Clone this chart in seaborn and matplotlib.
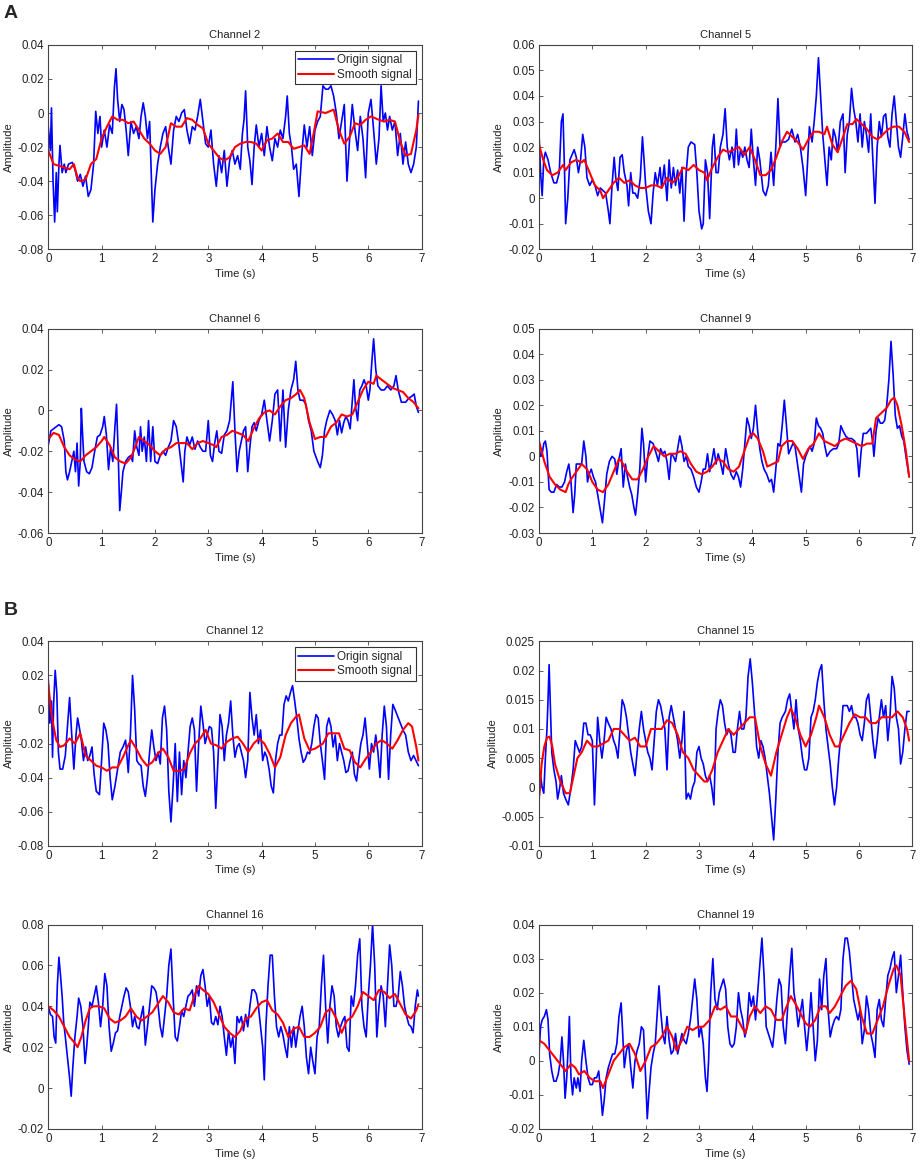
import numpy as np
import pandas as pd
import matplotlib
matplotlib.use('Agg')
import matplotlib.pyplot as plt
import seaborn as sns

# ==============================================================================
# Data: (time s, amplitude) pairs
# ==============================================================================
ch2_origin = [(0.00, -0.008), (0.04, -0.022), (0.06, 0.003), (0.09, -0.040), (0.12, -0.064), (0.15, -0.035),
              (0.17, -0.058), (0.20, -0.030), (0.22, -0.019), (0.26, -0.035), (0.30, -0.030), (0.33, -0.035),
              (0.38, -0.030), (0.45, -0.029), (0.50, -0.033), (0.55, -0.040), (0.60, -0.036), (0.65, -0.043),
              (0.70, -0.037), (0.75, -0.049), (0.80, -0.045), (0.85, -0.030), (0.89, 0.001), (0.93, -0.012),
              (0.97, -0.002), (1.00, -0.020), (1.05, -0.010), (1.10, -0.020), (1.15, -0.007), (1.20, -0.012),
              (1.24, 0.015), (1.27, 0.026), (1.30, 0.008), (1.34, -0.005), (1.38, 0.005), (1.42, 0.002),
              (1.46, -0.010), (1.50, -0.025), (1.55, -0.005), (1.60, -0.012), (1.65, -0.008), (1.70, -0.015),
              (1.74, -0.002), (1.78, 0.006), (1.82, -0.002), (1.86, -0.015), (1.90, -0.005), (1.96, -0.064),
              (2.00, -0.045), (2.05, -0.030), (2.10, -0.020), (2.15, -0.012), (2.20, -0.008), (2.25, -0.020),
              (2.30, -0.030), (2.35, -0.010), (2.40, -0.002), (2.45, -0.005), (2.50, 0.000), (2.55, 0.002),
              (2.60, -0.010), (2.65, -0.018), (2.70, -0.008), (2.75, -0.010), (2.80, -0.002), (2.85, 0.008),
              (2.90, -0.005), (2.95, -0.018), (3.00, -0.020), (3.05, -0.010), (3.10, -0.030), (3.15, -0.043),
              (3.20, -0.025), (3.25, -0.035), (3.30, -0.022), (3.35, -0.043), (3.40, -0.028), (3.45, -0.022),
              (3.50, -0.030), (3.55, -0.025), (3.60, -0.033), (3.64, -0.012), (3.67, -0.004), (3.70, 0.013),
              (3.74, -0.020), (3.78, -0.028), (3.82, -0.042), (3.86, -0.020), (3.90, -0.007), (3.95, -0.020),
              (4.00, -0.012), (4.05, -0.025), (4.10, -0.008), (4.15, -0.020), (4.20, -0.028), (4.25, -0.015),
              (4.30, -0.020), (4.35, -0.010), (4.40, -0.015), (4.45, -0.002), (4.48, 0.010), (4.52, -0.012),
              (4.56, -0.020), (4.60, -0.033), (4.65, -0.030), (4.70, -0.049), (4.75, -0.025), (4.80, -0.007),
              (4.85, -0.020), (4.90, -0.008), (4.95, -0.025), (5.00, -0.010), (5.05, -0.005), (5.10, -0.002),
              (5.15, 0.016), (5.20, 0.014), (5.25, 0.014), (5.30, 0.016), (5.35, 0.010), (5.40, 0.000),
              (5.45, -0.015), (5.50, -0.005), (5.55, 0.005), (5.60, -0.040), (5.65, -0.015), (5.70, 0.005),
              (5.75, -0.010), (5.80, -0.022), (5.85, -0.002), (5.90, -0.015), (5.95, -0.038), (6.00, 0.000),
              (6.05, 0.008), (6.10, -0.010), (6.15, -0.030), (6.20, -0.015), (6.24, 0.016), (6.28, -0.005),
              (6.32, 0.000), (6.36, -0.010), (6.40, -0.002), (6.45, -0.010), (6.50, -0.005), (6.55, -0.025),
              (6.60, -0.012), (6.65, -0.030), (6.70, -0.017), (6.75, -0.030), (6.80, -0.035), (6.85, -0.030),
              (6.90, -0.020), (6.94, 0.007)]
ch2_smooth = [(0.0, -0.022), (0.1, -0.030), (0.2, -0.031), (0.3, -0.032), (0.4, -0.033), (0.48, -0.030),
              (0.55, -0.038), (0.6, -0.040), (0.7, -0.039), (0.8, -0.030), (0.9, -0.027), (1.0, -0.015),
              (1.1, -0.008), (1.2, -0.002), (1.3, -0.004), (1.4, -0.004), (1.5, -0.006), (1.6, -0.005),
              (1.7, -0.010), (1.8, -0.015), (1.9, -0.018), (2.0, -0.022), (2.1, -0.024), (2.2, -0.020),
              (2.3, -0.006), (2.4, -0.008), (2.5, -0.008), (2.6, -0.003), (2.7, -0.004), (2.8, -0.007),
              (2.9, -0.009), (3.0, -0.018), (3.1, -0.022), (3.2, -0.026), (3.3, -0.028), (3.4, -0.026),
              (3.5, -0.020), (3.6, -0.018), (3.7, -0.017), (3.8, -0.017), (3.9, -0.018), (4.0, -0.022),
              (4.1, -0.016), (4.2, -0.015), (4.3, -0.012), (4.4, -0.017), (4.5, -0.017), (4.6, -0.021),
              (4.7, -0.020), (4.8, -0.019), (4.9, -0.024), (5.0, -0.008), (5.05, 0.001), (5.2, 0.000),
              (5.35, 0.002), (5.45, -0.010), (5.55, -0.018), (5.65, -0.014), (5.75, -0.006), (5.85, -0.007),
              (5.95, -0.004), (6.05, -0.002), (6.2, -0.004), (6.3, -0.005), (6.4, -0.004), (6.5, -0.005),
              (6.6, -0.017), (6.7, -0.025), (6.8, -0.024), (6.9, -0.010), (6.94, -0.001)]

ch5_origin = [(0.00, 0.026), (0.03, 0.010), (0.06, 0.001), (0.09, 0.015), (0.12, 0.018), (0.17, 0.015),
              (0.22, 0.010), (0.28, 0.006), (0.33, 0.006), (0.38, 0.010), (0.42, 0.030), (0.45, 0.033),
              (0.48, 0.010), (0.50, -0.010), (0.54, 0.000), (0.58, 0.015), (0.62, 0.017), (0.66, 0.019),
              (0.70, 0.016), (0.74, 0.010), (0.78, 0.015), (0.82, 0.025), (0.86, 0.020), (0.90, 0.008),
              (0.95, 0.005), (1.00, 0.007), (1.05, 0.005), (1.10, 0.001), (1.15, 0.004), (1.20, 0.003),
              (1.25, 0.002), (1.30, -0.005), (1.33, -0.010), (1.37, 0.005), (1.41, 0.016), (1.44, 0.008),
              (1.48, 0.003), (1.52, 0.016), (1.56, 0.017), (1.60, 0.010), (1.65, 0.005), (1.68, -0.003),
              (1.72, 0.010), (1.76, 0.002), (1.80, 0.002), (1.85, 0.000), (1.90, 0.008), (1.94, 0.024),
              (1.97, 0.015), (2.00, 0.005), (2.05, -0.005), (2.10, -0.010), (2.14, 0.002), (2.18, 0.010),
              (2.22, 0.005), (2.27, 0.012), (2.30, 0.004), (2.35, 0.013), (2.40, -0.001), (2.44, 0.015),
              (2.48, 0.004), (2.52, 0.012), (2.56, 0.005), (2.60, 0.011), (2.64, 0.002), (2.68, 0.012),
              (2.72, -0.009), (2.76, 0.010), (2.80, 0.020), (2.85, 0.022), (2.92, 0.021), (2.96, 0.010),
              (3.00, -0.005), (3.05, -0.012), (3.08, -0.010), (3.12, 0.015), (3.16, 0.010), (3.20, -0.008),
              (3.25, 0.020), (3.28, 0.025), (3.32, 0.010), (3.36, 0.010), (3.40, 0.020), (3.45, 0.025),
              (3.49, 0.035), (3.53, 0.020), (3.57, 0.015), (3.62, 0.020), (3.66, 0.012), (3.70, 0.027),
              (3.74, 0.013), (3.78, 0.019), (3.82, 0.016), (3.86, 0.020), (3.90, 0.015), (3.94, 0.012),
              (3.98, 0.027), (4.02, 0.015), (4.06, 0.005), (4.10, 0.020), (4.14, 0.015), (4.20, 0.003),
              (4.25, 0.001), (4.30, 0.005), (4.35, 0.018), (4.40, 0.005), (4.44, 0.020), (4.48, 0.039),
              (4.52, 0.020), (4.56, 0.022), (4.62, 0.022), (4.68, 0.023), (4.74, 0.027), (4.80, 0.022),
              (4.85, 0.025), (4.90, 0.020), (4.95, 0.012), (5.00, 0.001), (5.03, 0.012), (5.07, 0.028),
              (5.12, 0.022), (5.16, 0.030), (5.20, 0.040), (5.24, 0.055), (5.28, 0.040), (5.32, 0.025),
              (5.36, 0.015), (5.40, 0.005), (5.44, 0.020), (5.48, 0.015), (5.52, 0.027), (5.56, 0.024),
              (5.60, 0.018), (5.65, 0.030), (5.70, 0.033), (5.74, 0.010), (5.78, 0.025), (5.82, 0.030),
              (5.86, 0.043), (5.90, 0.035), (5.94, 0.030), (5.98, 0.022), (6.02, 0.033), (6.06, 0.020),
              (6.10, 0.030), (6.14, 0.025), (6.18, 0.018), (6.22, 0.033), (6.26, 0.015), (6.30, -0.002),
              (6.34, 0.020), (6.38, 0.030), (6.42, 0.024), (6.46, 0.032), (6.50, 0.033), (6.54, 0.024),
              (6.58, 0.020), (6.62, 0.033), (6.66, 0.040), (6.70, 0.030), (6.74, 0.020), (6.78, 0.016),
              (6.82, 0.024), (6.86, 0.033), (6.90, 0.026), (6.94, 0.023)]
ch5_smooth = [(0.0, 0.021), (0.08, 0.015), (0.15, 0.011), (0.25, 0.009), (0.35, 0.010), (0.45, 0.013),
              (0.5, 0.011), (0.6, 0.014), (0.7, 0.015), (0.8, 0.014), (0.85, 0.015), (0.95, 0.010),
              (1.05, 0.005), (1.15, 0.003), (1.2, 0.000), (1.3, 0.003), (1.4, 0.006), (1.5, 0.008),
              (1.6, 0.006), (1.7, 0.007), (1.8, 0.005), (1.9, 0.004), (2.0, 0.004), (2.1, 0.005),
              (2.2, 0.005), (2.3, 0.004), (2.4, 0.008), (2.5, 0.006), (2.6, 0.008), (2.7, 0.012),
              (2.8, 0.011), (2.9, 0.013), (3.0, 0.011), (3.1, 0.010), (3.15, 0.007), (3.25, 0.012),
              (3.35, 0.016), (3.45, 0.019), (3.55, 0.018), (3.65, 0.019), (3.75, 0.020), (3.85, 0.017),
              (3.95, 0.020), (4.05, 0.015), (4.15, 0.009), (4.25, 0.009), (4.35, 0.011), (4.45, 0.016),
              (4.55, 0.022), (4.65, 0.026), (4.75, 0.024), (4.85, 0.022), (4.95, 0.019), (5.05, 0.023),
              (5.15, 0.026), (5.25, 0.026), (5.35, 0.025), (5.4, 0.028), (5.5, 0.021), (5.6, 0.018),
              (5.7, 0.024), (5.78, 0.029), (5.88, 0.029), (5.95, 0.031), (6.05, 0.029), (6.15, 0.027),
              (6.25, 0.024), (6.35, 0.023), (6.45, 0.025), (6.55, 0.027), (6.65, 0.028), (6.75, 0.028),
              (6.85, 0.026), (6.94, 0.022)]

ch6_origin = [(0.00, -0.017), (0.05, -0.010), (0.10, -0.009), (0.20, -0.007), (0.25, -0.008), (0.30, -0.015),
              (0.33, -0.030), (0.36, -0.034), (0.40, -0.030), (0.44, -0.025), (0.48, -0.020), (0.51, -0.030),
              (0.54, -0.016), (0.57, -0.037), (0.60, -0.025), (0.62, 0.001), (0.64, -0.010), (0.67, -0.025),
              (0.72, -0.030), (0.77, -0.031), (0.82, -0.028), (0.87, -0.020), (0.92, -0.013), (0.97, -0.012),
              (1.02, -0.008), (1.05, -0.003), (1.09, -0.012), (1.13, -0.029), (1.17, -0.018), (1.21, -0.025),
              (1.25, -0.008), (1.28, 0.003), (1.31, -0.020), (1.34, -0.049), (1.37, -0.040), (1.40, -0.030),
              (1.45, -0.025), (1.50, -0.023), (1.55, -0.022), (1.58, -0.025), (1.62, -0.010), (1.66, -0.018),
              (1.70, -0.022), (1.73, -0.008), (1.76, -0.020), (1.80, -0.013), (1.84, -0.025), (1.88, -0.005),
              (1.92, -0.025), (1.96, -0.008), (2.00, -0.025), (2.05, -0.026), (2.10, -0.022), (2.15, -0.020),
              (2.20, -0.022), (2.25, -0.018), (2.30, -0.015), (2.35, -0.005), (2.40, -0.008), (2.45, -0.017),
              (2.50, -0.028), (2.53, -0.035), (2.56, -0.020), (2.60, -0.013), (2.65, -0.017), (2.70, -0.013),
              (2.75, -0.019), (2.80, -0.015), (2.85, -0.018), (2.90, -0.020), (2.95, -0.020), (3.00, -0.005),
              (3.04, -0.022), (3.08, -0.025), (3.12, -0.016), (3.16, -0.010), (3.20, -0.020), (3.25, -0.021),
              (3.30, -0.012), (3.35, -0.010), (3.40, -0.005), (3.46, 0.014), (3.50, -0.010), (3.54, -0.030),
              (3.58, -0.020), (3.62, -0.015), (3.66, -0.010), (3.70, -0.008), (3.74, -0.030), (3.78, -0.018),
              (3.82, -0.008), (3.86, -0.006), (3.90, -0.010), (3.95, -0.005), (4.00, -0.002), (4.05, 0.005),
              (4.10, -0.005), (4.15, -0.015), (4.20, -0.005), (4.25, 0.008), (4.30, 0.010), (4.35, -0.015),
              (4.40, 0.010), (4.45, -0.018), (4.50, 0.000), (4.55, 0.010), (4.60, 0.015), (4.64, 0.024),
              (4.68, 0.010), (4.72, 0.005), (4.78, 0.005), (4.83, 0.003), (4.88, -0.005), (4.93, -0.010),
              (4.98, -0.020), (5.05, -0.025), (5.10, -0.028), (5.14, -0.022), (5.18, -0.010), (5.22, -0.005),
              (5.28, 0.000), (5.33, -0.002), (5.38, -0.005), (5.42, -0.012), (5.46, -0.005), (5.50, -0.011),
              (5.54, -0.006), (5.58, -0.003), (5.62, -0.005), (5.66, -0.009), (5.70, 0.005), (5.73, 0.015),
              (5.76, 0.002), (5.80, -0.005), (5.84, 0.010), (5.88, 0.012), (5.92, 0.015), (5.96, 0.012),
              (6.00, 0.005), (6.03, 0.010), (6.07, 0.025), (6.10, 0.035), (6.14, 0.020), (6.18, 0.012),
              (6.24, 0.010), (6.30, 0.010), (6.36, 0.012), (6.42, 0.010), (6.48, 0.012), (6.52, 0.017),
              (6.56, 0.010), (6.62, 0.004), (6.70, 0.004), (6.76, 0.006), (6.82, 0.007), (6.86, 0.008),
              (6.90, 0.002), (6.94, -0.001)]
ch6_smooth = [(0.0, -0.014), (0.1, -0.011), (0.2, -0.012), (0.3, -0.018), (0.4, -0.022), (0.5, -0.024),
              (0.6, -0.025), (0.7, -0.022), (0.8, -0.020), (0.9, -0.018), (1.0, -0.015), (1.05, -0.013),
              (1.15, -0.017), (1.25, -0.023), (1.35, -0.025), (1.45, -0.026), (1.55, -0.023), (1.6, -0.020),
              (1.7, -0.013), (1.8, -0.015), (1.9, -0.017), (2.0, -0.020), (2.1, -0.022), (2.2, -0.019),
              (2.3, -0.018), (2.4, -0.016), (2.5, -0.016), (2.6, -0.016), (2.7, -0.019), (2.8, -0.016),
              (2.9, -0.015), (3.0, -0.016), (3.1, -0.017), (3.15, -0.018), (3.25, -0.013), (3.35, -0.012),
              (3.45, -0.010), (3.55, -0.011), (3.65, -0.012), (3.75, -0.015), (3.85, -0.009), (3.95, -0.004),
              (4.05, -0.001), (4.15, 0.000), (4.25, -0.002), (4.35, 0.002), (4.45, 0.005), (4.55, 0.006),
              (4.65, 0.008), (4.72, 0.010), (4.8, 0.006), (4.9, -0.006), (5.0, -0.014), (5.1, -0.013),
              (5.2, -0.013), (5.3, -0.008), (5.4, -0.006), (5.5, -0.002), (5.6, -0.003), (5.7, -0.002),
              (5.8, 0.004), (5.9, 0.010), (6.0, 0.014), (6.1, 0.013), (6.15, 0.017), (6.25, 0.015),
              (6.35, 0.013), (6.45, 0.011), (6.55, 0.010), (6.65, 0.009), (6.75, 0.006), (6.85, 0.004),
              (6.94, 0.001)]

ch9_origin = [(0.00, 0.004), (0.03, 0.000), (0.06, 0.001), (0.09, 0.005), (0.12, 0.006), (0.15, 0.002),
              (0.19, -0.013), (0.23, -0.014), (0.28, -0.014), (0.33, -0.011), (0.38, -0.012), (0.43, -0.012),
              (0.48, -0.010), (0.52, -0.006), (0.56, -0.003), (0.60, -0.010), (0.64, -0.022), (0.67, -0.015),
              (0.70, -0.003), (0.75, -0.003), (0.80, -0.003), (0.84, 0.006), (0.88, 0.000), (0.91, -0.010),
              (0.94, -0.007), (0.98, -0.005), (1.02, -0.008), (1.06, -0.010), (1.10, -0.015), (1.15, -0.021),
              (1.19, -0.026), (1.23, -0.017), (1.27, -0.007), (1.32, -0.002), (1.37, 0.000), (1.42, -0.001),
              (1.46, -0.007), (1.50, -0.001), (1.54, 0.003), (1.58, -0.012), (1.62, -0.003), (1.66, -0.008),
              (1.70, -0.012), (1.74, -0.015), (1.78, -0.020), (1.81, -0.023), (1.85, -0.015), (1.89, -0.005),
              (1.93, 0.011), (1.96, 0.005), (2.00, -0.010), (2.04, 0.000), (2.08, 0.006), (2.14, 0.005),
              (2.20, 0.001), (2.24, -0.002), (2.28, 0.003), (2.32, 0.001), (2.36, 0.002), (2.40, -0.002),
              (2.44, -0.009), (2.48, 0.001), (2.52, 0.000), (2.56, -0.002), (2.60, 0.003), (2.64, 0.008),
              (2.68, 0.004), (2.72, -0.002), (2.76, 0.000), (2.80, -0.004), (2.85, -0.005), (2.90, -0.008),
              (2.95, -0.012), (3.00, -0.014), (3.04, -0.010), (3.08, -0.005), (3.12, -0.005), (3.16, 0.001),
              (3.20, -0.006), (3.24, -0.002), (3.28, 0.003), (3.32, -0.003), (3.36, 0.001), (3.40, -0.002),
              (3.45, -0.007), (3.50, 0.003), (3.55, -0.003), (3.60, -0.007), (3.65, -0.009), (3.70, -0.006),
              (3.74, -0.008), (3.78, -0.012), (3.82, -0.005), (3.86, 0.005), (3.90, 0.015), (3.94, 0.012),
              (3.98, 0.007), (4.02, 0.011), (4.06, 0.020), (4.10, 0.010), (4.14, 0.003), (4.18, -0.002),
              (4.22, -0.005), (4.27, -0.007), (4.32, -0.010), (4.36, -0.009), (4.40, -0.014), (4.44, -0.005),
              (4.48, 0.005), (4.52, 0.004), (4.56, 0.012), (4.60, 0.022), (4.64, 0.012), (4.68, 0.001),
              (4.72, 0.003), (4.76, 0.005), (4.80, 0.004), (4.84, -0.002), (4.88, -0.008), (4.92, -0.014),
              (4.96, -0.003), (5.00, 0.000), (5.04, 0.002), (5.08, 0.004), (5.12, 0.002), (5.16, 0.005),
              (5.20, 0.015), (5.24, 0.012), (5.28, 0.011), (5.32, 0.009), (5.36, 0.004), (5.40, 0.000),
              (5.46, 0.002), (5.52, 0.003), (5.58, 0.003), (5.62, 0.005), (5.66, 0.012), (5.70, 0.010),
              (5.75, 0.008), (5.80, 0.007), (5.86, 0.007), (5.92, 0.006), (5.96, 0.003), (6.00, -0.008),
              (6.04, 0.002), (6.08, 0.009), (6.14, 0.009), (6.18, 0.010), (6.22, 0.011), (6.26, 0.005),
              (6.28, 0.000), (6.32, 0.010), (6.36, 0.015), (6.40, 0.013), (6.44, 0.013), (6.48, 0.014),
              (6.52, 0.020), (6.56, 0.030), (6.60, 0.045), (6.64, 0.032), (6.68, 0.016), (6.72, 0.011),
              (6.76, 0.012), (6.80, 0.008), (6.84, 0.006), (6.88, 0.000), (6.94, -0.008)]
ch9_smooth = [(0.0, 0.006), (0.1, -0.002), (0.2, -0.008), (0.3, -0.011), (0.4, -0.013), (0.5, -0.014),
              (0.55, -0.011), (0.6, -0.009), (0.7, -0.006), (0.8, -0.003), (0.9, -0.005), (1.0, -0.010),
              (1.1, -0.013), (1.2, -0.014), (1.3, -0.011), (1.4, -0.006), (1.5, -0.001), (1.55, -0.002),
              (1.65, -0.006), (1.75, -0.009), (1.85, -0.009), (1.95, -0.005), (2.05, 0.000), (2.15, 0.004),
              (2.25, 0.002), (2.35, 0.000), (2.45, 0.001), (2.55, 0.001), (2.65, 0.002), (2.75, 0.001),
              (2.85, -0.003), (2.95, -0.006), (3.05, -0.007), (3.15, -0.006), (3.25, -0.004), (3.35, -0.001),
              (3.45, -0.002), (3.55, -0.005), (3.65, -0.006), (3.75, -0.004), (3.85, 0.002), (3.95, 0.008),
              (4.02, 0.009), (4.1, 0.007), (4.2, 0.002), (4.28, -0.004), (4.38, -0.003), (4.48, -0.002),
              (4.55, 0.004), (4.65, 0.006), (4.75, 0.006), (4.85, 0.003), (4.95, -0.001), (5.05, 0.003),
              (5.15, 0.005), (5.25, 0.009), (5.35, 0.006), (5.45, 0.005), (5.55, 0.004), (5.65, 0.006),
              (5.75, 0.007), (5.85, 0.006), (5.95, 0.005), (6.05, 0.004), (6.15, 0.005), (6.25, 0.005),
              (6.32, 0.015), (6.42, 0.017), (6.52, 0.019), (6.6, 0.022), (6.66, 0.023), (6.72, 0.020),
              (6.8, 0.012), (6.88, 0.002), (6.94, -0.008)]

ch12_origin = [(0.00, 0.018), (0.03, -0.008), (0.06, 0.005), (0.08, -0.028), (0.10, 0.003), (0.13, 0.023),
               (0.16, 0.010), (0.19, -0.025), (0.22, -0.035), (0.27, -0.035), (0.32, -0.027), (0.36, -0.010),
               (0.40, 0.007), (0.44, -0.015), (0.48, -0.035), (0.52, -0.015), (0.55, -0.005), (0.58, -0.010),
               (0.62, -0.018), (0.66, -0.030), (0.70, -0.022), (0.74, -0.030), (0.78, -0.027), (0.82, -0.022),
               (0.86, -0.038), (0.90, -0.048), (0.96, -0.050), (1.00, -0.030), (1.04, -0.008), (1.08, -0.012),
               (1.12, -0.020), (1.16, -0.040), (1.20, -0.053), (1.25, -0.045), (1.30, -0.035), (1.35, -0.025),
               (1.40, -0.022), (1.45, -0.018), (1.50, -0.037), (1.54, -0.015), (1.58, 0.020), (1.62, 0.000),
               (1.66, -0.030), (1.70, -0.032), (1.74, -0.033), (1.78, -0.045), (1.82, -0.051), (1.86, -0.040),
               (1.90, -0.025), (1.94, -0.012), (1.98, -0.022), (2.02, -0.030), (2.06, -0.025), (2.10, -0.032),
               (2.14, -0.005), (2.18, 0.002), (2.22, -0.012), (2.26, -0.048), (2.30, -0.066), (2.34, -0.045),
               (2.38, -0.020), (2.42, -0.054), (2.46, -0.025), (2.50, -0.050), (2.54, -0.030), (2.58, -0.040),
               (2.62, -0.025), (2.66, -0.010), (2.70, -0.005), (2.74, -0.012), (2.78, -0.048), (2.82, -0.020),
               (2.86, 0.002), (2.90, -0.008), (2.94, -0.020), (2.98, -0.015), (3.02, -0.010), (3.06, -0.011),
               (3.10, -0.025), (3.14, -0.058), (3.18, -0.030), (3.22, -0.003), (3.26, -0.010), (3.30, -0.030),
               (3.34, -0.015), (3.38, -0.008), (3.42, 0.005), (3.46, -0.015), (3.50, -0.028), (3.54, -0.022),
               (3.58, -0.020), (3.62, -0.025), (3.66, -0.030), (3.70, -0.040), (3.74, -0.030), (3.78, 0.010),
               (3.82, -0.005), (3.86, -0.015), (3.90, -0.003), (3.94, -0.020), (3.98, -0.012), (4.02, -0.030),
               (4.06, -0.025), (4.10, -0.028), (4.14, -0.035), (4.18, -0.045), (4.22, -0.049), (4.26, -0.030),
               (4.30, -0.020), (4.34, -0.015), (4.38, -0.015), (4.42, 0.003), (4.46, 0.008), (4.50, 0.005),
               (4.54, 0.010), (4.58, 0.014), (4.62, 0.005), (4.66, -0.005), (4.70, -0.017), (4.74, -0.025),
               (4.78, -0.031), (4.82, -0.029), (4.86, -0.025), (4.90, -0.026), (4.94, -0.020), (4.98, -0.010),
               (5.02, -0.003), (5.06, -0.005), (5.10, -0.020), (5.14, -0.030), (5.18, -0.041), (5.22, -0.010),
               (5.26, -0.005), (5.30, -0.010), (5.34, -0.022), (5.38, -0.015), (5.42, -0.030), (5.46, -0.020),
               (5.50, -0.025), (5.54, -0.030), (5.58, -0.037), (5.62, -0.036), (5.66, -0.030), (5.70, -0.025),
               (5.74, -0.038), (5.78, -0.042), (5.82, -0.030), (5.86, -0.020), (5.90, -0.015), (5.94, -0.005),
               (5.98, -0.020), (6.02, -0.035), (6.06, -0.020), (6.10, -0.025), (6.14, -0.015), (6.18, -0.025),
               (6.22, -0.040), (6.26, -0.015), (6.30, 0.002), (6.34, -0.010), (6.38, -0.041), (6.42, -0.015),
               (6.46, 0.003), (6.50, 0.000), (6.55, -0.004), (6.60, -0.008), (6.65, -0.012), (6.70, -0.015),
               (6.75, -0.025), (6.80, -0.030), (6.85, -0.027), (6.94, -0.033)]
ch12_smooth = [(0.0, 0.015), (0.05, 0.000), (0.1, -0.010), (0.15, -0.018), (0.22, -0.022), (0.3, -0.021),
               (0.4, -0.017), (0.5, -0.020), (0.6, -0.014), (0.7, -0.027), (0.8, -0.030), (0.9, -0.033),
               (1.0, -0.034), (1.1, -0.036), (1.2, -0.034), (1.3, -0.034), (1.4, -0.028), (1.5, -0.021),
               (1.55, -0.018), (1.65, -0.023), (1.75, -0.029), (1.85, -0.033), (1.95, -0.031), (2.05, -0.026),
               (2.15, -0.023), (2.25, -0.028), (2.35, -0.036), (2.45, -0.036), (2.55, -0.035), (2.65, -0.026),
               (2.75, -0.020), (2.85, -0.017), (2.95, -0.012), (3.05, -0.020), (3.15, -0.021), (3.25, -0.023),
               (3.35, -0.019), (3.45, -0.017), (3.55, -0.016), (3.65, -0.020), (3.75, -0.025), (3.85, -0.020),
               (3.95, -0.017), (4.05, -0.020), (4.15, -0.026), (4.25, -0.034), (4.35, -0.028), (4.45, -0.015),
               (4.55, -0.008), (4.65, -0.004), (4.7, -0.003), (4.8, -0.017), (4.9, -0.024), (5.0, -0.023),
               (5.05, -0.022), (5.15, -0.020), (5.25, -0.014), (5.35, -0.014), (5.45, -0.014), (5.55, -0.023),
               (5.65, -0.024), (5.75, -0.031), (5.85, -0.034), (5.95, -0.029), (6.05, -0.025), (6.15, -0.020),
               (6.25, -0.018), (6.35, -0.020), (6.45, -0.023), (6.55, -0.018), (6.65, -0.012), (6.75, -0.008),
               (6.82, -0.010), (6.9, -0.022), (6.94, -0.030)]

ch15_origin = [(0.00, -0.002), (0.03, 0.002), (0.06, 0.000), (0.09, -0.001), (0.12, 0.005), (0.15, 0.010),
               (0.17, 0.015), (0.19, 0.021), (0.21, 0.015), (0.24, 0.006), (0.28, 0.003), (0.32, 0.001),
               (0.35, -0.002), (0.39, 0.000), (0.42, 0.002), (0.46, -0.001), (0.50, -0.002), (0.55, -0.003),
               (0.60, 0.000), (0.64, 0.003), (0.68, 0.008), (0.72, 0.007), (0.76, 0.006), (0.80, 0.007),
               (0.84, 0.011), (0.88, 0.011), (0.92, 0.009), (0.96, 0.009), (1.00, 0.008), (1.04, -0.003),
               (1.07, 0.004), (1.10, 0.012), (1.14, 0.008), (1.18, 0.005), (1.22, 0.008), (1.26, 0.012),
               (1.30, 0.011), (1.35, 0.010), (1.40, 0.008), (1.44, 0.007), (1.48, 0.005), (1.52, 0.010),
               (1.56, 0.015), (1.60, 0.014), (1.64, 0.012), (1.68, 0.009), (1.72, 0.006), (1.76, 0.004),
               (1.80, 0.002), (1.84, 0.006), (1.88, 0.010), (1.92, 0.013), (1.96, 0.010), (2.00, 0.008),
               (2.04, 0.006), (2.08, 0.005), (2.12, 0.003), (2.16, 0.008), (2.20, 0.013), (2.24, 0.015),
               (2.28, 0.014), (2.32, 0.012), (2.36, 0.010), (2.40, 0.003), (2.44, 0.012), (2.48, 0.014),
               (2.52, 0.012), (2.56, 0.010), (2.60, 0.008), (2.64, 0.005), (2.68, 0.008), (2.72, 0.013),
               (2.76, -0.002), (2.80, -0.001), (2.84, -0.002), (2.88, 0.000), (2.92, 0.001), (2.96, 0.006),
               (3.00, 0.007), (3.04, 0.005), (3.08, 0.004), (3.12, 0.002), (3.16, 0.001), (3.20, 0.002),
               (3.24, 0.000), (3.28, -0.003), (3.32, 0.010), (3.36, 0.013), (3.40, 0.015), (3.44, 0.014),
               (3.48, 0.011), (3.52, 0.009), (3.56, 0.010), (3.60, 0.009), (3.64, 0.006), (3.68, 0.006),
               (3.72, 0.010), (3.76, 0.013), (3.80, 0.010), (3.84, 0.010), (3.88, 0.012), (3.92, 0.019),
               (3.96, 0.022), (4.00, 0.018), (4.04, 0.013), (4.08, 0.007), (4.12, 0.005), (4.16, 0.008),
               (4.20, 0.007), (4.24, 0.005), (4.28, 0.002), (4.32, -0.001), (4.36, -0.005), (4.40, -0.009),
               (4.44, -0.002), (4.48, 0.006), (4.52, 0.011), (4.56, 0.012), (4.62, 0.013), (4.66, 0.015),
               (4.70, 0.016), (4.74, 0.013), (4.78, 0.010), (4.82, 0.015), (4.86, 0.010), (4.90, 0.008),
               (4.94, 0.005), (4.98, 0.003), (5.02, 0.003), (5.06, 0.005), (5.10, 0.012), (5.14, 0.013),
               (5.18, 0.015), (5.22, 0.018), (5.26, 0.020), (5.30, 0.021), (5.34, 0.015), (5.38, 0.010),
               (5.42, 0.007), (5.46, 0.004), (5.50, 0.000), (5.54, -0.003), (5.58, 0.000), (5.62, 0.005),
               (5.66, 0.009), (5.70, 0.014), (5.74, 0.014), (5.78, 0.014), (5.82, 0.013), (5.86, 0.014),
               (5.90, 0.012), (5.94, 0.012), (5.98, 0.011), (6.02, 0.009), (6.06, 0.008), (6.10, 0.011),
               (6.14, 0.015), (6.18, 0.016), (6.22, 0.012), (6.26, 0.008), (6.30, 0.005), (6.34, 0.008),
               (6.38, 0.012), (6.42, 0.015), (6.46, 0.012), (6.50, 0.014), (6.54, 0.008), (6.58, 0.012),
               (6.62, 0.019), (6.66, 0.017), (6.70, 0.012), (6.74, 0.010), (6.78, 0.004), (6.82, 0.006),
               (6.86, 0.010), (6.90, 0.013), (6.94, 0.013)]
ch15_smooth = [(0.0, -0.002), (0.05, 0.004), (0.1, 0.007), (0.15, 0.0085), (0.2, 0.0087), (0.25, 0.007),
               (0.3, 0.004), (0.4, 0.001), (0.5, -0.001), (0.58, -0.001), (0.65, 0.002), (0.72, 0.005),
               (0.8, 0.006), (0.9, 0.008), (1.0, 0.007), (1.1, 0.007), (1.2, 0.0075), (1.3, 0.008),
               (1.4, 0.010), (1.5, 0.010), (1.6, 0.009), (1.7, 0.008), (1.8, 0.0085), (1.9, 0.007),
               (2.0, 0.007), (2.1, 0.010), (2.2, 0.010), (2.3, 0.010), (2.4, 0.0115), (2.5, 0.011),
               (2.6, 0.009), (2.7, 0.006), (2.8, 0.005), (2.9, 0.003), (3.0, 0.002), (3.1, 0.001),
               (3.15, 0.001), (3.25, 0.003), (3.35, 0.006), (3.45, 0.008), (3.55, 0.010), (3.65, 0.009),
               (3.75, 0.010), (3.85, 0.011), (3.95, 0.012), (4.05, 0.012), (4.15, 0.007), (4.25, 0.004),
               (4.35, 0.002), (4.45, 0.006), (4.55, 0.009), (4.65, 0.012), (4.72, 0.0135), (4.8, 0.012),
               (4.9, 0.009), (5.0, 0.007), (5.1, 0.009), (5.2, 0.012), (5.25, 0.014), (5.35, 0.012),
               (5.45, 0.009), (5.55, 0.007), (5.62, 0.007), (5.72, 0.009), (5.82, 0.011), (5.92, 0.0125),
               (6.02, 0.012), (6.12, 0.012), (6.22, 0.011), (6.32, 0.011), (6.42, 0.012), (6.52, 0.012),
               (6.62, 0.012), (6.72, 0.013), (6.82, 0.012), (6.9, 0.010), (6.94, 0.008)]

ch16_origin = [(0.00, 0.040), (0.04, 0.036), (0.08, 0.035), (0.11, 0.025), (0.14, 0.022), (0.17, 0.050),
               (0.20, 0.064), (0.23, 0.055), (0.26, 0.045), (0.29, 0.032), (0.32, 0.025), (0.36, 0.015),
               (0.40, 0.005), (0.43, -0.004), (0.46, 0.010), (0.50, 0.025), (0.54, 0.035), (0.57, 0.044),
               (0.61, 0.040), (0.65, 0.030), (0.69, 0.012), (0.72, 0.020), (0.75, 0.030), (0.78, 0.042),
               (0.82, 0.040), (0.86, 0.045), (0.90, 0.050), (0.94, 0.042), (0.98, 0.030), (1.02, 0.040),
               (1.06, 0.056), (1.10, 0.050), (1.14, 0.030), (1.18, 0.018), (1.22, 0.022), (1.26, 0.027),
               (1.30, 0.028), (1.34, 0.035), (1.38, 0.040), (1.42, 0.045), (1.46, 0.049), (1.50, 0.047),
               (1.54, 0.040), (1.58, 0.030), (1.62, 0.035), (1.66, 0.030), (1.70, 0.029), (1.74, 0.035),
               (1.78, 0.040), (1.82, 0.021), (1.86, 0.030), (1.90, 0.040), (1.94, 0.050), (1.98, 0.049),
               (2.02, 0.047), (2.06, 0.040), (2.10, 0.030), (2.14, 0.025), (2.18, 0.035), (2.22, 0.045),
               (2.26, 0.060), (2.30, 0.068), (2.34, 0.045), (2.38, 0.025), (2.42, 0.023), (2.46, 0.030),
               (2.50, 0.038), (2.54, 0.035), (2.58, 0.040), (2.62, 0.045), (2.66, 0.046), (2.70, 0.048),
               (2.74, 0.040), (2.78, 0.050), (2.82, 0.045), (2.86, 0.055), (2.90, 0.058), (2.94, 0.050),
               (2.98, 0.040), (3.02, 0.045), (3.06, 0.032), (3.10, 0.031), (3.14, 0.035), (3.18, 0.031),
               (3.22, 0.040), (3.26, 0.035), (3.30, 0.025), (3.34, 0.016), (3.38, 0.028), (3.42, 0.020),
               (3.46, 0.025), (3.50, 0.012), (3.54, 0.035), (3.58, 0.032), (3.62, 0.035), (3.66, 0.028),
               (3.70, 0.036), (3.74, 0.030), (3.78, 0.040), (3.82, 0.048), (3.86, 0.048), (3.90, 0.046),
               (3.94, 0.040), (3.98, 0.030), (4.02, 0.020), (4.05, 0.004), (4.08, 0.030), (4.12, 0.050),
               (4.16, 0.065), (4.20, 0.065), (4.24, 0.045), (4.28, 0.030), (4.32, 0.025), (4.36, 0.030),
               (4.40, 0.026), (4.44, 0.020), (4.48, 0.015), (4.52, 0.030), (4.56, 0.020), (4.60, 0.030),
               (4.64, 0.020), (4.68, 0.028), (4.72, 0.035), (4.76, 0.040), (4.80, 0.030), (4.84, 0.015),
               (4.88, 0.007), (4.92, 0.020), (4.96, 0.013), (5.00, 0.007), (5.04, 0.025), (5.08, 0.030),
               (5.12, 0.050), (5.16, 0.065), (5.20, 0.040), (5.24, 0.022), (5.28, 0.040), (5.32, 0.050),
               (5.36, 0.045), (5.40, 0.030), (5.44, 0.025), (5.48, 0.030), (5.52, 0.033), (5.56, 0.035),
               (5.60, 0.020), (5.64, 0.018), (5.68, 0.045), (5.72, 0.040), (5.76, 0.050), (5.80, 0.065),
               (5.84, 0.073), (5.88, 0.040), (5.92, 0.030), (5.96, 0.025), (6.00, 0.045), (6.04, 0.060),
               (6.08, 0.080), (6.12, 0.060), (6.16, 0.025), (6.20, 0.040), (6.24, 0.050), (6.28, 0.045),
               (6.32, 0.030), (6.36, 0.050), (6.40, 0.070), (6.44, 0.060), (6.48, 0.040), (6.52, 0.040),
               (6.56, 0.045), (6.60, 0.057), (6.64, 0.050), (6.68, 0.040), (6.72, 0.035), (6.76, 0.031),
               (6.80, 0.030), (6.84, 0.027), (6.88, 0.040), (6.92, 0.048), (6.94, 0.045)]
ch16_smooth = [(0.0, 0.040), (0.1, 0.038), (0.2, 0.035), (0.3, 0.030), (0.4, 0.025), (0.5, 0.022),
               (0.55, 0.020), (0.62, 0.025), (0.7, 0.033), (0.78, 0.039), (0.85, 0.040), (0.95, 0.040),
               (1.05, 0.039), (1.15, 0.034), (1.25, 0.032), (1.35, 0.033), (1.45, 0.035), (1.55, 0.039),
               (1.65, 0.035), (1.75, 0.033), (1.85, 0.035), (1.95, 0.037), (2.05, 0.041), (2.15, 0.045),
               (2.25, 0.042), (2.35, 0.037), (2.45, 0.036), (2.55, 0.039), (2.65, 0.038), (2.75, 0.046),
               (2.82, 0.050), (2.9, 0.048), (3.0, 0.046), (3.1, 0.042), (3.2, 0.036), (3.3, 0.030),
               (3.4, 0.027), (3.5, 0.025), (3.6, 0.028), (3.7, 0.034), (3.8, 0.035), (3.9, 0.039),
               (4.0, 0.042), (4.1, 0.043), (4.2, 0.038), (4.3, 0.036), (4.4, 0.032), (4.5, 0.025),
               (4.6, 0.029), (4.7, 0.030), (4.8, 0.025), (4.9, 0.025), (5.0, 0.027), (5.1, 0.030),
               (5.2, 0.037), (5.3, 0.039), (5.4, 0.034), (5.5, 0.027), (5.6, 0.033), (5.7, 0.035),
               (5.8, 0.040), (5.9, 0.047), (6.0, 0.045), (6.1, 0.043), (6.2, 0.048), (6.3, 0.047),
               (6.4, 0.044), (6.5, 0.046), (6.6, 0.041), (6.7, 0.036), (6.8, 0.034), (6.9, 0.038),
               (6.94, 0.041)]

ch19_origin = [(0.00, 0.002), (0.03, 0.010), (0.06, 0.012), (0.10, 0.013), (0.14, 0.015), (0.17, 0.012),
               (0.20, 0.002), (0.24, -0.003), (0.28, -0.006), (0.32, -0.006), (0.36, -0.004), (0.40, 0.000),
               (0.43, 0.007), (0.46, 0.000), (0.49, -0.011), (0.52, -0.005), (0.55, 0.005), (0.57, 0.013),
               (0.60, -0.005), (0.63, -0.010), (0.66, -0.005), (0.70, -0.008), (0.73, -0.005), (0.77, -0.009),
               (0.80, 0.000), (0.84, 0.006), (0.88, 0.000), (0.92, -0.005), (0.96, -0.007), (1.00, -0.007),
               (1.04, -0.005), (1.08, -0.005), (1.12, -0.003), (1.16, -0.010), (1.19, -0.016), (1.22, -0.012),
               (1.26, -0.005), (1.30, -0.002), (1.34, 0.000), (1.38, 0.002), (1.42, 0.002), (1.46, 0.005),
               (1.50, 0.013), (1.54, 0.017), (1.57, 0.008), (1.60, -0.002), (1.64, 0.003), (1.68, 0.005),
               (1.72, -0.002), (1.76, -0.008), (1.80, 0.000), (1.84, 0.003), (1.88, 0.005), (1.92, 0.010),
               (1.96, 0.009), (2.00, -0.005), (2.03, -0.017), (2.06, -0.010), (2.10, -0.002), (2.14, 0.002),
               (2.18, 0.005), (2.22, 0.015), (2.25, 0.022), (2.28, 0.015), (2.32, 0.008), (2.36, 0.005),
               (2.40, 0.013), (2.44, 0.006), (2.48, 0.002), (2.52, 0.003), (2.56, 0.008), (2.60, 0.002),
               (2.64, 0.005), (2.68, 0.008), (2.72, 0.006), (2.76, 0.005), (2.80, 0.008), (2.84, 0.012),
               (2.88, 0.018), (2.92, 0.024), (2.96, 0.018), (3.00, 0.007), (3.04, 0.010), (3.08, 0.005),
               (3.12, -0.005), (3.15, -0.009), (3.18, 0.000), (3.22, 0.020), (3.26, 0.030), (3.30, 0.018),
               (3.34, 0.015), (3.38, 0.020), (3.42, 0.022), (3.46, 0.024), (3.50, 0.021), (3.54, 0.010),
               (3.58, 0.005), (3.62, 0.004), (3.66, 0.005), (3.70, 0.010), (3.74, 0.020), (3.78, 0.015),
               (3.82, 0.012), (3.86, 0.007), (3.90, 0.010), (3.94, 0.020), (3.98, 0.016), (4.02, 0.019),
               (4.06, 0.012), (4.10, 0.020), (4.14, 0.028), (4.18, 0.036), (4.22, 0.025), (4.26, 0.010),
               (4.30, 0.008), (4.34, 0.006), (4.38, 0.004), (4.42, 0.010), (4.46, 0.018), (4.50, 0.024),
               (4.54, 0.022), (4.58, 0.010), (4.62, 0.005), (4.66, 0.015), (4.70, 0.025), (4.74, 0.033),
               (4.78, 0.020), (4.82, 0.016), (4.86, 0.010), (4.90, 0.014), (4.94, 0.018), (4.98, 0.010),
               (5.02, 0.003), (5.06, 0.010), (5.10, 0.020), (5.14, 0.010), (5.18, 0.000), (5.22, 0.006),
               (5.26, 0.024), (5.30, 0.015), (5.34, 0.025), (5.38, 0.030), (5.42, 0.015), (5.46, 0.007),
               (5.50, 0.010), (5.54, 0.012), (5.58, 0.013), (5.62, 0.012), (5.66, 0.015), (5.70, 0.030),
               (5.74, 0.036), (5.78, 0.036), (5.82, 0.032), (5.86, 0.025), (5.90, 0.018), (5.94, 0.015),
               (5.98, 0.012), (6.02, 0.015), (6.06, 0.005), (6.10, 0.009), (6.14, 0.019), (6.18, 0.015),
               (6.22, 0.008), (6.26, 0.005), (6.30, 0.001), (6.34, 0.015), (6.38, 0.018), (6.42, 0.012),
               (6.46, 0.010), (6.50, 0.018), (6.54, 0.025), (6.58, 0.027), (6.62, 0.030), (6.66, 0.032),
               (6.70, 0.020), (6.74, 0.025), (6.78, 0.031), (6.82, 0.020), (6.86, 0.010), (6.90, 0.003),
               (6.94, -0.001)]
ch19_smooth = [(0.0, 0.006), (0.1, 0.005), (0.2, 0.003), (0.3, 0.001), (0.4, -0.001), (0.5, -0.003),
               (0.6, -0.001), (0.68, -0.002), (0.75, -0.004), (0.85, -0.003), (0.95, -0.005), (1.05, -0.006),
               (1.15, -0.006), (1.2, -0.008), (1.3, -0.004), (1.4, 0.000), (1.5, 0.002), (1.6, 0.004),
               (1.7, 0.005), (1.8, 0.002), (1.9, -0.003), (2.0, 0.000), (2.1, 0.004), (2.2, 0.005),
               (2.3, 0.007), (2.4, 0.010), (2.5, 0.007), (2.58, 0.003), (2.68, 0.006), (2.78, 0.010),
               (2.88, 0.009), (2.98, 0.010), (3.08, 0.010), (3.2, 0.012), (3.3, 0.016), (3.4, 0.015),
               (3.5, 0.016), (3.6, 0.013), (3.7, 0.013), (3.8, 0.010), (3.87, 0.008), (3.95, 0.013),
               (4.05, 0.016), (4.15, 0.014), (4.25, 0.016), (4.35, 0.015), (4.45, 0.012), (4.55, 0.012),
               (4.62, 0.015), (4.72, 0.019), (4.8, 0.017), (4.9, 0.014), (5.0, 0.011), (5.08, 0.010),
               (5.18, 0.012), (5.28, 0.016), (5.38, 0.016), (5.45, 0.014), (5.55, 0.016), (5.65, 0.019),
               (5.75, 0.022), (5.85, 0.0235), (5.95, 0.021), (6.05, 0.013), (6.15, 0.008), (6.25, 0.008),
               (6.35, 0.012), (6.45, 0.016), (6.55, 0.022), (6.65, 0.027), (6.7, 0.028), (6.78, 0.025),
               (6.86, 0.012), (6.94, 0.000)]

# panel titles, y-axis ranges and tick steps
channel_names = ['Channel 2', 'Channel 5', 'Channel 6', 'Channel 9',
                 'Channel 12', 'Channel 15', 'Channel 16', 'Channel 19']
y_ranges = [(-0.08, 0.04, 0.02), (-0.02, 0.06, 0.01), (-0.06, 0.04, 0.02), (-0.03, 0.05, 0.01),
            (-0.08, 0.04, 0.02), (-0.01, 0.025, 0.005), (-0.02, 0.08, 0.02), (-0.02, 0.04, 0.01)]
origin_series = [ch2_origin, ch5_origin, ch6_origin, ch9_origin, ch12_origin, ch15_origin, ch16_origin, ch19_origin]
smooth_series = [ch2_smooth, ch5_smooth, ch6_smooth, ch9_smooth, ch12_smooth, ch15_smooth, ch16_smooth, ch19_smooth]
legend_panels = ['Channel 2', 'Channel 12']

# ==============================================================================
# Style (MATLAB-like look)
# ==============================================================================
sns.set_style('ticks')
plt.rcParams['font.family'] = ['Liberation Sans', 'DejaVu Sans']
plt.rcParams.update({
    'xtick.direction': 'in', 'ytick.direction': 'in',
    'xtick.top': True, 'ytick.right': True,
    'xtick.major.size': 3, 'ytick.major.size': 3,
    'xtick.major.width': 0.6, 'ytick.major.width': 0.6,
    'axes.linewidth': 0.8, 'axes.edgecolor': '#444444',
    'xtick.color': '#444444', 'ytick.color': '#444444',
    'xtick.labelcolor': '#222222', 'ytick.labelcolor': '#222222',
    'font.size': 8,
})

fig = plt.figure(figsize=(9.21, 11.6), dpi=100)

col_left = [0.0524, 0.5852]
row_bottom = [0.7851, 0.5405, 0.2709, 0.0268]
ax_w, ax_h = 0.4054, 0.1762

for i, name in enumerate(channel_names):
    ax = fig.add_axes([col_left[i % 2], row_bottom[i // 2], ax_w, ax_h])
    o = np.array(origin_series[i])
    s = np.array(smooth_series[i])
    df_o = pd.DataFrame({'Time': o[:, 0], 'Amplitude': o[:, 1]})
    df_s = pd.DataFrame({'Time': s[:, 0], 'Amplitude': s[:, 1]})
    show_leg = name in legend_panels
    sns.lineplot(data=df_o, x='Time', y='Amplitude', ax=ax, color='#0000ff', linewidth=1.2,
                 estimator=None, sort=False, label='Origin signal' if show_leg else None)
    sns.lineplot(data=df_s, x='Time', y='Amplitude', ax=ax, color='#ff0000', linewidth=1.5,
                 estimator=None, sort=False, label='Smooth signal' if show_leg else None)

    lo, hi, step = y_ranges[i]
    ticks = np.round(np.arange(lo, hi + step / 2, step), 4)
    ax.set_ylim(lo, hi)
    ax.set_yticks(ticks)
    ax.set_yticklabels([f'{t:g}' if abs(t) > 1e-9 else '0' for t in ticks])
    ax.set_xlim(0, 7)
    ax.set_xticks(range(8))
    ax.set_title(name, fontsize=8, pad=5, color='#222222')
    ax.set_xlabel('Time (s)', fontsize=8, labelpad=2.5, color='#222222')
    ax.set_ylabel('Amplitude', fontsize=8, labelpad=3, color='#222222')
    ax.tick_params(labelsize=8.3, pad=3)
    if show_leg:
        leg = ax.legend(loc='upper right', fontsize=8.5, handlelength=3.0, frameon=True,
                        fancybox=False, framealpha=1, edgecolor='#333333', borderaxespad=0.5,
                        borderpad=0.3, labelspacing=0.2, handletextpad=0.3)
        leg.get_frame().set_linewidth(0.8)
    elif ax.get_legend() is not None:
        ax.get_legend().remove()

fig.text(0.004, 1 - 5 / 1160, 'A', fontsize=14, fontweight='bold', va='top', ha='left')
fig.text(0.004, 1 - 602 / 1160, 'B', fontsize=14, fontweight='bold', va='top', ha='left')

fig.savefig('out.png', dpi=100)
plt.close(fig)
